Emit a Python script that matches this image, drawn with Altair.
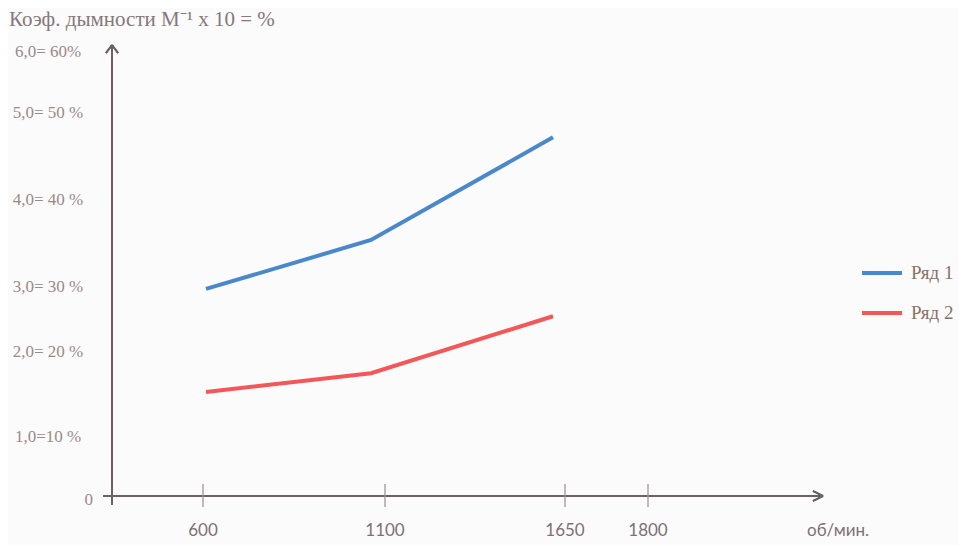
import altair as alt
import pandas as pd

# ---- data ----
rpm = [600, 1100, 1650]                 # об/мин
series_names = ["Ряд 1", "Ряд 2"]
row1 = [2.97, 3.54, 4.72]
row2 = [1.53, 1.75, 2.55]

x_ticks = [600, 1100, 1650, 1800]
x_tick_labels = ["600", "1100", "1650", "1800"]
y_ticks = [0, 1, 2, 3, 4, 5, 6]
y_tick_labels = ["0", "1,0=10 %", "2,0= 20 %", "3,0= 30 %", "4,0= 40 %", "5,0= 50 %", "6,0= 60%"]

title_text = "Коэф. дымности М⁻¹ х 10 = %"
x_unit = "об/мин."
colors = ["#4a88cc", "#f2585a"]

# ---- tables ----
lines_df = pd.DataFrame({
    "rpm": rpm * 2,
    "value": row1 + row2,
    "series": [series_names[0]] * len(rpm) + [series_names[1]] * len(rpm),
})
xt_df = pd.DataFrame({"rpm": x_ticks, "label": x_tick_labels})
yt_df = pd.DataFrame({"value": y_ticks, "label": y_tick_labels})

# hand-drawn (non-uniform) axes -> piecewise scales
y_scale = alt.Scale(domain=y_ticks, range=[488, 429, 344, 279, 192, 105, 44], nice=False, zero=False)
xt_scale = alt.Scale(domain=x_ticks, range=[195, 377, 557, 640], nice=False, zero=False)
xl_scale = alt.Scale(domain=rpm, range=[198, 363, 545], nice=False, zero=False)

AX = "#6d6066"
SERIF = "Liberation Serif"

lines = alt.Chart(lines_df).mark_line(strokeWidth=4, strokeCap="butt").encode(
    x=alt.X("rpm:Q", scale=xl_scale, axis=None),
    y=alt.Y("value:Q", scale=y_scale, axis=None),
    color=alt.Color(
        "series:N",
        scale=alt.Scale(domain=series_names, range=colors),
        legend=alt.Legend(
            orient="none", legendX=852, legendY=243, title=None,
            symbolType="stroke", symbolSize=1600, symbolStrokeWidth=4,
            labelFont=SERIF, labelFontSize=19, labelColor="#8a7268",
            labelOffset=7, rowPadding=8,
        ),
    ),
)

y_axis = alt.Chart(xt_df).mark_rule(color=AX, strokeWidth=1.5).encode(
    x=alt.value(104), y=alt.value(37), y2=alt.value(497)
)
x_axis = alt.Chart(xt_df).mark_rule(color=AX, strokeWidth=1.5).encode(
    x=alt.value(95), x2=alt.value(815), y=alt.value(488)
)
arrow_up_l = alt.Chart(xt_df).mark_rule(color=AX, strokeWidth=1.5).encode(
    x=alt.value(104), y=alt.value(37), x2=alt.value(98), y2=alt.value(45)
)
arrow_up_r = alt.Chart(xt_df).mark_rule(color=AX, strokeWidth=1.5).encode(
    x=alt.value(104), y=alt.value(37), x2=alt.value(110), y2=alt.value(45)
)
arrow_rt_t = alt.Chart(xt_df).mark_rule(color=AX, strokeWidth=1.5).encode(
    x=alt.value(815), y=alt.value(488), x2=alt.value(805), y2=alt.value(483)
)
arrow_rt_b = alt.Chart(xt_df).mark_rule(color=AX, strokeWidth=1.5).encode(
    x=alt.value(815), y=alt.value(488), x2=alt.value(805), y2=alt.value(493)
)

x_tick_marks = alt.Chart(xt_df).mark_rule(color="#9a8c92", strokeWidth=1.2).encode(
    x=alt.X("rpm:Q", scale=xt_scale, axis=None),
    y=alt.value(476), y2=alt.value(499),
)
x_tick_text = alt.Chart(xt_df).mark_text(
    font="Lato", fontSize=17, color="#7d7076", baseline="middle", align="center"
).encode(
    x=alt.X("rpm:Q", scale=xt_scale, axis=None),
    y=alt.value(523),
    text="label:N",
)
unit_text = alt.Chart(xt_df.head(1)).mark_text(
    font="Lato", fontSize=17, color="#7d7076", baseline="middle", align="center"
).encode(x=alt.value(830), y=alt.value(523), text=alt.value(x_unit))

y_tick_text = alt.Chart(yt_df).transform_filter("datum.value > 0").mark_text(
    font=SERIF, fontSize=17, color="#9a8a88", baseline="middle", align="center"
).encode(
    x=alt.value(40),
    y=alt.Y("value:Q", scale=y_scale, axis=None),
    text="label:N",
)
y_zero_text = alt.Chart(yt_df).transform_filter("datum.value == 0").mark_text(
    font=SERIF, fontSize=17, color="#9a8a88", baseline="middle", align="right", dy=4
).encode(
    x=alt.value(85),
    y=alt.Y("value:Q", scale=y_scale, axis=None),
    text="label:N",
)

title = alt.Chart(xt_df.head(1)).mark_text(
    font=SERIF, fontSize=21, color="#85787a", baseline="middle", align="left"
).encode(x=alt.value(1), y=alt.value(12), text=alt.value(title_text))

chart = alt.layer(
    y_axis, x_axis, arrow_up_l, arrow_up_r, arrow_rt_t, arrow_rt_b,
    x_tick_marks, x_tick_text, unit_text, y_tick_text, y_zero_text, title, lines,
).resolve_scale(x="independent").properties(
    width=950, height=537, autosize=alt.AutoSizeParams(type="none"), padding=0,
    background="#fcfbfb",
).configure_view(stroke=None).configure_legend(labelFont=SERIF)

chart.save("out.html", embed_options={"renderer": "svg", "actions": False})
